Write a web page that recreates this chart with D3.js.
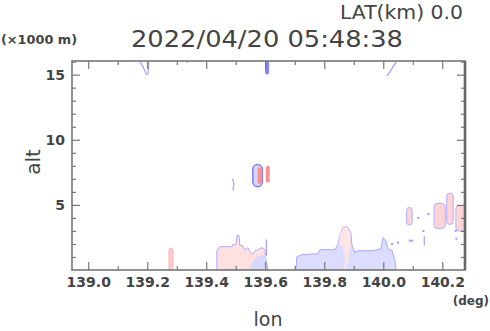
<!DOCTYPE html>
<html>
<head>
<meta charset="utf-8">
<script src="https://cdn.jsdelivr.net/npm/d3@7"></script>
<style>
  body { margin: 0; background: #fff; }
  svg { display: block; }
  text { fill: #444; font-family: "DejaVu Sans", sans-serif; }
</style>
</head>
<body>
<script>
// 轴刻度
const lonTicks = [139.0, 139.2, 139.4, 139.6, 139.8, 140.0, 140.2]
const lonMinor = [139.1, 139.3, 139.5, 139.7, 139.9, 140.1]
const altTicks = [5, 10, 15]
const altMinor = [1, 2, 3, 4, 6, 7, 8, 9, 11, 12, 13, 14, 16]

// 回波块(多边形) [lon, alt]
const echoPink = [
  [139.436, 0], [139.436, 1.48], [139.446, 1.79], [139.487, 1.79], [139.490, 1.95],
  [139.501, 1.95], [139.504, 2.64], [139.511, 2.64], [139.514, 1.87], [139.524, 1.87],
  [139.530, 1.56], [139.535, 1.60], [139.541, 1.72], [139.548, 1.40], [139.555, 1.20],
  [139.565, 1.45], [139.575, 1.56], [139.589, 1.72], [139.599, 1.56], [139.602, 0.87],
  [139.609, 0]
]
const echoBlueLow = [
  [139.548, 0], [139.555, 0.55], [139.568, 0.95], [139.589, 1.18], [139.602, 1.02], [139.606, 0]
]
const echoBlue = [
  [139.704, 0], [139.707, 1.02], [139.724, 1.18], [139.779, 1.25], [139.785, 1.56],
  [139.836, 1.56], [139.846, 1.95], [139.853, 2.64], [139.863, 3.25], [139.877, 3.33],
  [139.890, 2.87], [139.894, 1.87], [139.904, 1.33], [139.914, 1.48], [139.921, 1.48],
  [139.965, 1.48], [139.992, 1.64], [139.999, 2.48], [140.009, 2.25], [140.016, 1.64],
  [140.030, 1.48], [140.040, 0.72], [140.043, 0]
]
const echoPinkPeak = [
  [139.848, 1.9], [139.853, 2.64], [139.863, 3.22], [139.876, 3.30], [139.888, 2.87],
  [139.890, 2.0], [139.880, 0.6], [139.872, 0], [139.866, 0], [139.872, 0.9], [139.862, 1.9]
]

// 回波块(圆角矩形) lon0, lon1, alt0, alt1
const cellsPink = [
  [140.079, 140.098, 3.46, 4.8],
  [140.172, 140.210, 3.2, 5.1],
  [140.215, 140.237, 3.5, 5.9],
  [140.246, 140.285, 3.0, 4.95]
]
const cellsPinkLow = [
  [139.274, 139.287, 0, 1.65]
]
const cellsRed = [
  [139.574, 139.588, 6.6, 7.9],
  [139.602, 139.615, 6.7, 8.0]
]
const cellsBlueRing = [
  [139.558, 139.590, 6.4, 8.1]
]
const cellsBlue = [
  [139.599, 139.613, 15.02, 16.1]
]

// 细线回波
const tracesBlue = [
  [[139.175, 16], [139.186, 15.6], [139.197, 15.0], [139.203, 15.1], [139.205, 16]],
  [[140.045, 16], [140.033, 15.6], [140.022, 15.2], [140.012, 14.9]],
  [[139.489, 7.0], [139.494, 6.6], [139.490, 6.1]],
  [[139.604, 2.35], [139.604, 1.1]],
  [[140.139, 2.6], [140.139, 1.9]]
]
const dotsBlue = [
  [140.119, 4.0], [140.153, 4.3], [140.136, 3.0], [140.090, 2.25], [140.098, 2.25],
  [140.245, 3.0], [140.248, 2.4], [139.336, 16.0], [140.030, 2.0], [140.050, 2.1]
]

const width = 490
const height = 331
const margin = { top: 61, right: 25, bottom: 61, left: 72 }

const svg = d3.select('body').append('svg')
  .attr('width', width)
  .attr('height', height)

const x = d3.scaleLinear().domain([138.945, 140.277]).range([margin.left, width - margin.right])
const y = d3.scaleLinear().domain([0, 16.05]).range([height - margin.bottom, margin.top])

// 裁剪
svg.append('clipPath').attr('id', 'plot-clip')
  .append('rect')
  .attr('x', margin.left).attr('y', margin.top)
  .attr('width', width - margin.left - margin.right)
  .attr('height', height - margin.top - margin.bottom)

const plot = svg.append('g').attr('clip-path', 'url(#plot-clip)')

const poly = d3.line().x(d => x(d[0])).y(d => y(d[1])).curve(d3.curveLinearClosed)
const path = d3.line().x(d => x(d[0])).y(d => y(d[1]))

plot.append('path').datum(echoPink).attr('d', poly)
  .attr('fill', '#ffe0e0').attr('stroke', '#aaaaff').attr('stroke-width', 1)
plot.append('path').datum(echoBlueLow).attr('d', poly)
  .attr('fill', '#d8d8ff').attr('stroke', 'none')
plot.append('path').datum(echoBlue).attr('d', poly)
  .attr('fill', '#dcdcff').attr('stroke', '#a8a8ff').attr('stroke-width', 1)
plot.append('path').datum(echoPinkPeak).attr('d', poly)
  .attr('fill', '#ffe6e6').attr('stroke', 'none')

function drawCells(data, fill, stroke, sw, round) {
  plot.selectAll(null).data(data).enter().append('rect')
    .attr('x', d => x(d[0]))
    .attr('width', d => x(d[1]) - x(d[0]))
    .attr('y', d => y(d[3]))
    .attr('height', d => y(d[2]) - y(d[3]))
    .attr('rx', d => round ? (x(d[1]) - x(d[0])) / 2 : 3)
    .attr('fill', fill)
    .attr('stroke', stroke)
    .attr('stroke-width', sw)
}
drawCells(cellsPink, '#ffd4d4', '#b0b0ff', 1, false)
drawCells(cellsPinkLow, '#ffcfcf', '#ffaaaa', 1, true)
drawCells(cellsBlueRing, '#d6d6ff', '#7c7cff', 1.5, true)
drawCells(cellsRed, '#ff9090', 'none', 0, true)
drawCells(cellsBlue, '#8484ff', 'none', 0, false)

plot.selectAll(null).data(tracesBlue).enter().append('path')
  .attr('d', path)
  .attr('fill', 'none').attr('stroke', '#a0a0ff').attr('stroke-width', 1.2)
plot.selectAll(null).data(dotsBlue).enter().append('rect')
  .attr('x', d => x(d[0]) - 1).attr('y', d => y(d[1]) - 1)
  .attr('width', 2).attr('height', 2)
  .attr('fill', '#9a9aff')

// 坐标轴
const axisColor = '#777'
const bottomY = height - margin.bottom
const rightX = width - margin.right

function styleAxis(g) {
  g.select('.domain').remove()
  g.selectAll('.tick line').attr('stroke', axisColor).attr('stroke-width', 1.2)
  g.selectAll('.tick text')
    .attr('font-size', 14).attr('font-weight', 'bold').attr('fill', '#444')
}

svg.append('g').attr('transform', `translate(0,${bottomY})`)
  .call(d3.axisBottom(x).tickValues(lonTicks).tickSize(-8).tickPadding(7).tickFormat(d3.format('.1f')))
  .call(styleAxis)
svg.append('g').attr('transform', `translate(0,${bottomY})`)
  .call(d3.axisBottom(x).tickValues(lonMinor).tickSize(-4).tickFormat(''))
  .call(styleAxis)
svg.append('g').attr('transform', `translate(0,${margin.top})`)
  .call(d3.axisTop(x).tickValues(lonTicks).tickSize(-8).tickFormat(''))
  .call(styleAxis)
svg.append('g').attr('transform', `translate(0,${margin.top})`)
  .call(d3.axisTop(x).tickValues(lonMinor).tickSize(-4).tickFormat(''))
  .call(styleAxis)

svg.append('g').attr('transform', `translate(${margin.left},0)`)
  .call(d3.axisLeft(y).tickValues(altTicks).tickSize(-8).tickPadding(7))
  .call(styleAxis)
svg.append('g').attr('transform', `translate(${margin.left},0)`)
  .call(d3.axisLeft(y).tickValues(altMinor).tickSize(-4).tickFormat(''))
  .call(styleAxis)
svg.append('g').attr('transform', `translate(${rightX},0)`)
  .call(d3.axisRight(y).tickValues(altTicks).tickSize(-8).tickFormat(''))
  .call(styleAxis)
svg.append('g').attr('transform', `translate(${rightX},0)`)
  .call(d3.axisRight(y).tickValues(altMinor).tickSize(-4).tickFormat(''))
  .call(styleAxis)

// 边框
svg.append('rect')
  .attr('x', margin.left).attr('y', margin.top)
  .attr('width', rightX - margin.left).attr('height', bottomY - margin.top)
  .attr('fill', 'none').attr('stroke', axisColor).attr('stroke-width', 1.6)
svg.append('line')
  .attr('x1', rightX).attr('x2', rightX).attr('y1', margin.top).attr('y2', bottomY)
  .attr('stroke', '#666').attr('stroke-width', 2.6)

// 文字
svg.append('text').attr('x', 340).attr('y', 19)
  .attr('font-size', 19).attr('textLength', 123).attr('lengthAdjust', 'spacingAndGlyphs')
  .text('LAT(km) 0.0')
svg.append('text').attr('x', 131).attr('y', 47)
  .attr('font-size', 23).attr('textLength', 272).attr('lengthAdjust', 'spacingAndGlyphs')
  .text('2022/04/20 05:48:38')
svg.append('text').attr('x', 1).attr('y', 44)
  .attr('font-size', 12).attr('font-weight', 'bold')
  .attr('textLength', 76).attr('lengthAdjust', 'spacingAndGlyphs')
  .text('(×1000 m)')
svg.append('text').attr('x', 489).attr('y', 305).attr('text-anchor', 'end')
  .attr('font-size', 12).attr('font-weight', 'bold').text('(deg)')
svg.append('text').attr('x', 268).attr('y', 326).attr('text-anchor', 'middle')
  .attr('font-size', 19).text('lon')
svg.append('text').attr('transform', 'translate(40,162) rotate(-90)').attr('text-anchor', 'middle')
  .attr('font-size', 20).text('alt')
</script>
</body>
</html>
